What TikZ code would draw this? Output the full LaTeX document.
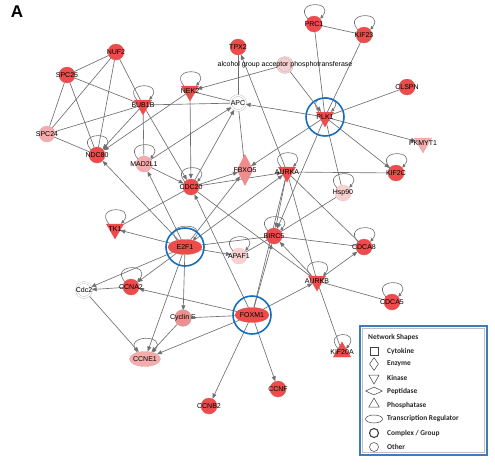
\documentclass[tikz,border=0pt]{standalone}
\usepackage{fontspec}
\setmainfont{Liberation Sans}
\newfontfamily\legendfont{Carlito}
\usepackage{tikz}
\usetikzlibrary{shapes.geometric,arrows.meta,backgrounds}

\definecolor{upred}{RGB}{238,76,76}
\definecolor{uppink}{RGB}{241,140,140}
\definecolor{uppale}{RGB}{245,172,172}
\definecolor{uplight}{RGB}{249,208,208}
\definecolor{edgegray}{RGB}{112,112,112}
\definecolor{hubblue}{RGB}{20,110,190}
\definecolor{boxblue}{RGB}{60,125,185}

\tikzset{
  every label/.style={font=\fontsize{7}{8}\selectfont, inner sep=0pt, text=black},
  gene/.style={circle, minimum size=16pt, inner sep=0pt, draw=#1!85!gray, fill=#1, line width=0.3pt},
  gene/.default=upred,
  kinase/.style={regular polygon, regular polygon sides=3, shape border rotate=180, minimum size=20pt, inner sep=0pt, draw=#1!85!gray, fill=#1, line width=0.3pt},
  kinase/.default=upred,
  phos/.style={regular polygon, regular polygon sides=3, minimum size=20pt, inner sep=0pt, draw=upred!85!gray, fill=upred},
  tfac/.style={ellipse, minimum width=34pt, minimum height=15pt, inner sep=0pt, draw=#1!85!gray, fill=#1, line width=0.3pt},
  tfac/.default=upred,
  enzyme/.style={diamond, minimum width=16pt, minimum height=31pt, inner sep=0pt, draw=uppink!85!gray, fill=uppink},
  cplx/.style={circle, minimum size=15pt, inner sep=0pt, draw=gray!55, double=#1, double distance=1.4pt, fill=#1},
  cplx/.default=white,
  link/.style={draw=edgegray, line width=0.65pt},
  arr/.style={link, -{Triangle[length=5pt,width=4pt]}},
  loopy/.style={draw=edgegray, line width=0.6pt, -{Triangle[length=3.5pt,width=3pt]}},
  hub/.style={draw=hubblue, line width=1.6pt},
  legicon/.style={draw=black!75, line width=0.5pt, inner sep=0pt},
  legtext/.style={anchor=west, font=\legendfont\bfseries\fontsize{7.4}{8}\selectfont, text=black!85, inner sep=0pt},
}

\begin{document}
\begin{tikzpicture}[x=1pt,y=-1pt]
\useasboundingbox (0,0) rectangle (495,464);
\node[font=\bfseries\fontsize{17}{17}\selectfont] (panelA) at (17,12) {A};

% nodes
\node[gene, label=center:NUF2] (NUF2) at (116,52) {};
\node[gene, label=center:SPC25] (SPC25) at (67,75) {};
\node[gene=uppale, label=center:SPC24] (SPC24) at (47,134) {};
\node[kinase, label=center:BUB1B] (BUB1B) at (143,105) {};
\node[kinase, label=center:NEK2] (NEK2) at (190,91) {};
\node[cplx, label=center:APC] (APC) at (238,103) {};
\node[gene, label=center:TPX2] (TPX2) at (238,47) {};
\node[cplx=uplight, label=center:alcohol group acceptor phosphotransferase] (AGAP) at (285,65) {};
\node[gene, label=center:PRC1] (PRC1) at (314,24) {};
\node[gene, label=center:KIF23] (KIF23) at (364,35) {};
\node[gene, label=center:CLSPN] (CLSPN) at (407,87) {};
\node[kinase, label=center:PLK1] (PLK1) at (325,117) {};
\node[kinase=uppale, label=center:PKMYT1] (PKMYT1) at (423,143) {};
\node[gene, label=center:KIF2C] (KIF2C) at (396,173) {};
\node[gene, label=center:NDC80] (NDC80) at (97,155) {};
\node[gene=uppale, label=center:MAD2L1] (MAD2L1) at (144,164) {};
\node[gene, label=center:CDC20] (CDC20) at (191,187) {};
\node[enzyme, label=center:FBXO5] (FBXO5) at (245,170) {};
\node[kinase, label=center:AURKA] (AURKA) at (287,172) {};
\node[gene=uplight, label=center:Hsp90] (Hsp90) at (343,193) {};
\node[kinase, label=center:TK1] (TK1) at (115,229) {};
\node[tfac, label=center:E2F1] (E2F1) at (185,247) {};
\node[gene=uplight, label=center:APAF1] (APAF1) at (239,256) {};
\node[gene, label=center:BIRC5] (BIRC5) at (274,236) {};
\node[gene, label=center:CDCA8] (CDCA8) at (364,247) {};
\node[cplx, label=center:Cdc2] (Cdc2) at (84,290) {};
\node[gene, label=center:CCNA2] (CCNA2) at (131,287) {};
\node[kinase, label=center:AURKB] (AURKB) at (317,281) {};
\node[gene, label=center:CDCA5] (CDCA5) at (392,302) {};
\node[cplx=uppink, label=center:Cyclin E] (CycE) at (183,318) {};
\node[tfac, label=center:FOXM1] (FOXM1) at (252,315) {};
\node[phos, label=center:KIF20A] (KIF20A) at (342,352) {};
\node[tfac=uppale, minimum width=31pt, label=center:CCNE1] (CCNE1) at (145,359) {};
\node[gene, label=center:CCNF] (CCNF) at (278,389) {};
\node[gene, label=center:CCNB2] (CCNB2) at (209,406) {};

\foreach \n in {PLK1,E2F1,FOXM1} \draw[hub] (\n) circle (19pt);

% connectors
\begin{scope}[on background layer]
\foreach \a/\b in {NUF2/SPC25,NUF2/SPC24,NUF2/NDC80,NUF2/BUB1B,SPC25/SPC24,SPC25/NDC80,SPC25/BUB1B,SPC24/BUB1B,SPC24/NDC80,
  BUB1B/APC,BUB1B/MAD2L1,NEK2/APC,TPX2/APC,APC/FBXO5,PRC1/KIF23,PRC1/PLK1,KIF23/PLK1,CLSPN/PLK1,PLK1/Hsp90,
  AURKA/KIF2C,AURKA/AURKB,AURKA/CDCA8,BIRC5/CDCA8,E2F1/BIRC5,Hsp90/BIRC5,BIRC5/APAF1,CDC20/TK1,CDC20/AURKB,
  AURKB/KIF20A,AURKB/CDCA5,FOXM1/CycE,FOXM1/AURKA}
  \draw[link] (\a) -- (\b);
\foreach \a/\b in {BUB1B/NDC80,NEK2/NDC80,E2F1/NDC80,AGAP/NEK2,AGAP/PLK1,AURKA/TPX2,PLK1/APC,PLK1/PKMYT1,PLK1/KIF2C,
  PLK1/FBXO5,PLK1/BIRC5,MAD2L1/APC,CDC20/APC,MAD2L1/CDC20,BUB1B/CDC20,NEK2/CDC20,CDC20/FBXO5,CDC20/AURKA,
  E2F1/TK1,E2F1/MAD2L1,E2F1/FBXO5,E2F1/AURKA,E2F1/APAF1,E2F1/Cdc2,E2F1/CCNA2,E2F1/CycE,E2F1/CCNE1,
  CCNA2/Cdc2,Cdc2/CCNE1,CycE/CCNE1,FOXM1/CCNE1,FOXM1/CCNA2,FOXM1/CDC20,FOXM1/BIRC5,FOXM1/AURKB,
  FOXM1/CCNB2,FOXM1/CCNF,AURKA/BIRC5,AURKB/BIRC5,AURKB/CDCA8}
  \draw[arr] (\a) -- (\b);
\foreach \n in {BUB1B,NEK2,PRC1,KIF23,NDC80,MAD2L1,CDC20,AURKA,Hsp90,KIF2C,TK1,APAF1,BIRC5,CDCA8,
  CCNA2,AURKB,CDCA5,KIF20A,CCNE1,E2F1,PLK1}
  \draw[loopy] (\n.140) .. controls +(130:24pt) and +(50:24pt) .. (\n.40);
\end{scope}

% legend
\draw[boxblue, line width=1.2pt] (360,326) rectangle (487,455);
\draw[gray!50, line width=0.4pt] (362.5,328.5) rectangle (484.5,452.5);
\node[legtext, font=\legendfont\bfseries\fontsize{7.4}{8}\selectfont] (legtitle) at (368,337) {Network Shapes};
\node[legicon, rectangle, minimum size=8pt] (lcyt) at (374,351) {};
\node[legicon, diamond, minimum width=9pt, minimum height=13pt] (lenz) at (374,364) {};
\node[legicon, regular polygon, regular polygon sides=3, shape border rotate=180, minimum size=12pt] (lkin) at (374,378) {};
\node[legicon, diamond, minimum width=17pt, minimum height=8pt] (lpep) at (374,391) {};
\node[legicon, regular polygon, regular polygon sides=3, minimum size=12pt] (lpho) at (374,404) {};
\node[legicon, ellipse, minimum width=17pt, minimum height=8pt] (ltra) at (374,419) {};
\node[legicon, circle, line width=1.1pt, minimum size=9pt] (lcpx) at (374,433) {};
\node[legicon, circle, minimum size=9pt] (loth) at (374,447) {};
\node[legtext] (tcyt) at (387,351) {Cytokine};
\node[legtext] (tenz) at (387,364) {Enzyme};
\node[legtext] (tkin) at (387,378) {Kinase};
\node[legtext] (tpep) at (387,391) {Peptidase};
\node[legtext] (tpho) at (387,405) {Phosphatase};
\node[legtext] (ttra) at (387,419) {Transcription Regulator};
\node[legtext] (tcpx) at (387,433) {Complex / Group};
\node[legtext] (toth) at (387,447) {Other};
\end{tikzpicture}
\end{document}
